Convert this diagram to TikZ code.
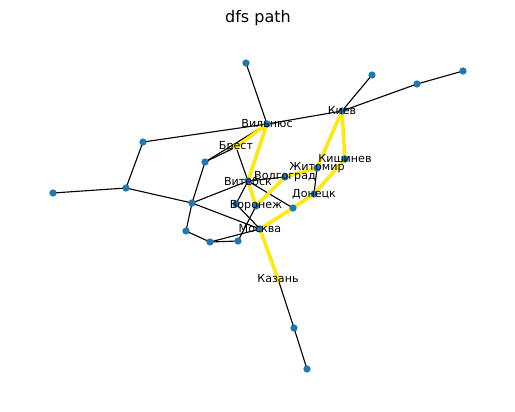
\documentclass[tikz,border=0pt]{standalone}
\usepackage{fontspec}
\setmainfont{DejaVu Sans}
\definecolor{nodeblue}{HTML}{1F77B4}
\definecolor{pathgold}{HTML}{FFDC00}
\definecolor{pathcore}{HTML}{FFF000}
\begin{document}
\begin{tikzpicture}[x=0.9pt,y=-0.9pt,
  vert/.style={circle,fill=nodeblue,inner sep=0pt,minimum size=6.5pt},
  startvert/.style={circle,fill=pathcore,inner sep=0pt,minimum size=6.5pt},
  edge/.style={black,line width=1pt},
  pathedge/.style={pathgold,line width=3pt,line cap=round},
  pathcoreedge/.style={pathcore,line width=1.6pt,line cap=round},
  lbl/.style={font=\fontsize{10}{12}\selectfont,text=black,inner sep=0pt}]
\useasboundingbox (0,0) rectangle (515,411);
\node[font=\fontsize{14.4}{17}\selectfont] (title) at (258,18) {dfs path};
% coordinates
\coordinate (A) at (246,63);
\coordinate (V) at (267,124);
\coordinate (K) at (342,111);
\coordinate (K1) at (372,75);
\coordinate (K2) at (417,84);
\coordinate (K3) at (463,71);
\coordinate (B) at (236,147);
\coordinate (Vit) at (248,181);
\coordinate (Vol) at (285,177);
\coordinate (Zh) at (317,168);
\coordinate (Ki) at (345,159);
\coordinate (Do) at (314,194);
\coordinate (Vor) at (256,206);
\coordinate (Mo) at (260,229);
\coordinate (Ka) at (278,279);
\coordinate (P1) at (143,142);
\coordinate (P2) at (126,188);
\coordinate (P3) at (53,193);
\coordinate (P4) at (205,162);
\coordinate (P5) at (192,203);
\coordinate (P6) at (186,231);
\coordinate (P7) at (210,242);
\coordinate (P8) at (238,241);
\coordinate (P9) at (236,204);
\coordinate (P10) at (293,208);
\coordinate (Z1) at (294,328);
\coordinate (Z2) at (307,369);
% black edges
\draw[edge] (A) -- (V);
\draw[edge] (P1) -- (V);
\draw[edge] (V) -- (K);
\draw[edge] (K) -- (K1);
\draw[edge] (K) -- (K2);
\draw[edge] (K2) -- (K3);
\draw[edge] (P1) -- (P2);
\draw[edge] (P2) -- (P3);
\draw[edge] (P2) -- (P5);
\draw[edge] (P4) -- (B);
\draw[edge] (P4) -- (V);
\draw[edge] (P4) -- (P5);
\draw[edge] (B) -- (Vit);
\draw[edge] (P5) -- (Vit);
\draw[edge] (P5) -- (Mo);
\draw[edge] (P5) -- (P6);
\draw[edge] (P6) -- (P7);
\draw[edge] (P7) -- (P8);
\draw[edge] (P7) -- (Mo);
\draw[edge] (P8) -- (Vor);
\draw[edge] (P9) -- (Vit);
\draw[edge] (P9) -- (Mo);
\draw[edge] (Vit) -- (P10);
\draw[edge] (Vit) -- (Vol);
\draw[edge] (Zh) -- (Do);
\draw[edge] (Ka) -- (Z1);
\draw[edge] (Z1) -- (Z2);
% path edges
\foreach \s in {pathedge,pathcoreedge}{
\draw[\s] (V) -- (B);
\draw[\s] (V) -- (Vit);
\draw[\s] (Vit) -- (Vor);
\draw[\s] (Vor) -- (Vol);
\draw[\s] (Vol) -- (Zh);
\draw[\s] (Zh) -- (K);
\draw[\s] (K) -- (Ki);
\draw[\s] (Ki) -- (Do);
\draw[\s] (Do) -- (P10);
\draw[\s] (P10) -- (Mo);
\draw[\s] (Mo) -- (Ka);
}
% nodes
\foreach \n in {A,V,K,K1,K2,K3,Vit,Vol,Zh,Ki,Do,Vor,Mo,P1,P2,P3,P4,P5,P6,P7,P8,P9,P10,Z1,Z2}
  \node[vert] (n\n) at (\n) {};
\node[startvert] (nB) at (B) {};
\node[startvert] (nKa) at (Ka) {};
% labels
\node[lbl] (lV) at (V) {Вильнюс};
\node[lbl] (lK) at (K) {Киев};
\node[lbl] (lB) at (B) {Брест};
\node[lbl] (lVit) at (Vit) {Витебск};
\node[lbl] (lVol) at (Vol) {Волгоград};
\node[lbl] (lZh) at (Zh) {Житомир};
\node[lbl] (lKi) at (Ki) {Кишинев};
\node[lbl] (lDo) at (Do) {Донецк};
\node[lbl] (lVor) at (Vor) {Воронеж};
\node[lbl] (lMo) at (Mo) {Москва};
\node[lbl] (lKa) at (Ka) {Казань};
\end{tikzpicture}
\end{document}
